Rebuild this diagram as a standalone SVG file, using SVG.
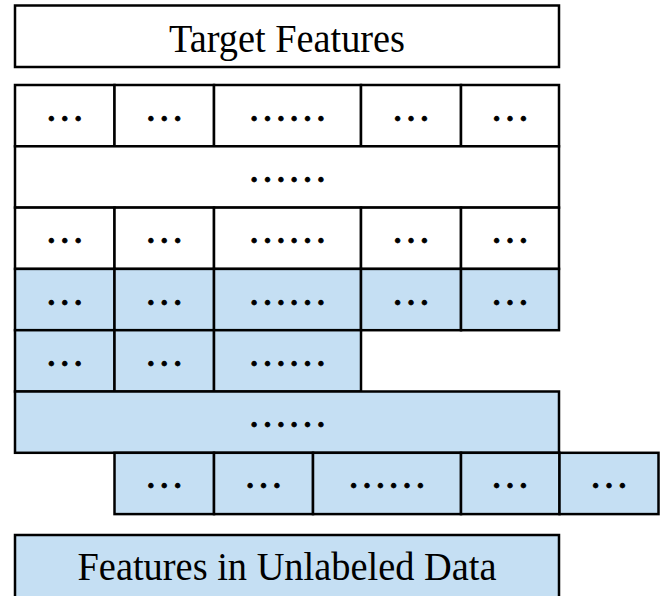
<svg xmlns="http://www.w3.org/2000/svg" width="663" height="596" viewBox="0 0 663 596">
<style>
.c{stroke:#000;stroke-width:2.5;fill:#fff}
.b{fill:#c5dff3}
.t{font-family:"Liberation Serif","Times New Roman",serif;font-size:40px;text-anchor:middle;fill:#000}
.d{stroke:#000;stroke-width:0.8}
</style>
<rect width="663" height="596" fill="#fff"/>
<g id="target-features"><rect class="c" x="15" y="5.5" width="544" height="61.5"/><text class="t" x="287" y="52" textLength="236" lengthAdjust="spacingAndGlyphs">Target Features</text></g>
<g id="row1">
<g id="r1c1"><rect class="c" x="15" y="85" width="99.5" height="61.3"/><text class="t d" x="64.7" y="120.6">…</text></g>
<g id="r1c2"><rect class="c" x="114.5" y="85" width="99.5" height="61.3"/><text class="t d" x="164.2" y="120.6">…</text></g>
<g id="r1c3"><rect class="c" x="214" y="85" width="147" height="61.3"/><text class="t d" x="287.5" y="120.6">……</text></g>
<g id="r1c4"><rect class="c" x="361" y="85" width="100" height="61.3"/><text class="t d" x="411" y="120.6">…</text></g>
<g id="r1c5"><rect class="c" x="461" y="85" width="98" height="61.3"/><text class="t d" x="510" y="120.6">…</text></g>
</g>
<g id="row2"><rect class="c" x="15" y="146.3" width="544" height="61.3"/><text class="t d" x="287.5" y="181.9">……</text></g>
<g id="row3">
<g id="r3c1"><rect class="c" x="15" y="207.6" width="99.5" height="61.3"/><text class="t d" x="64.7" y="243.2">…</text></g>
<g id="r3c2"><rect class="c" x="114.5" y="207.6" width="99.5" height="61.3"/><text class="t d" x="164.2" y="243.2">…</text></g>
<g id="r3c3"><rect class="c" x="214" y="207.6" width="147" height="61.3"/><text class="t d" x="287.5" y="243.2">……</text></g>
<g id="r3c4"><rect class="c" x="361" y="207.6" width="100" height="61.3"/><text class="t d" x="411" y="243.2">…</text></g>
<g id="r3c5"><rect class="c" x="461" y="207.6" width="98" height="61.3"/><text class="t d" x="510" y="243.2">…</text></g>
</g>
<g id="row4">
<g id="r4c1"><rect class="c b" x="15" y="268.9" width="99.5" height="61.3"/><text class="t d" x="64.7" y="304.5">…</text></g>
<g id="r4c2"><rect class="c b" x="114.5" y="268.9" width="99.5" height="61.3"/><text class="t d" x="164.2" y="304.5">…</text></g>
<g id="r4c3"><rect class="c b" x="214" y="268.9" width="147" height="61.3"/><text class="t d" x="287.5" y="304.5">……</text></g>
<g id="r4c4"><rect class="c b" x="361" y="268.9" width="100" height="61.3"/><text class="t d" x="411" y="304.5">…</text></g>
<g id="r4c5"><rect class="c b" x="461" y="268.9" width="98" height="61.3"/><text class="t d" x="510" y="304.5">…</text></g>
</g>
<g id="row5">
<g id="r5c1"><rect class="c b" x="15" y="330.2" width="99.5" height="61.3"/><text class="t d" x="64.7" y="365.8">…</text></g>
<g id="r5c2"><rect class="c b" x="114.5" y="330.2" width="99.5" height="61.3"/><text class="t d" x="164.2" y="365.8">…</text></g>
<g id="r5c3"><rect class="c b" x="214" y="330.2" width="147" height="61.3"/><text class="t d" x="287.5" y="365.8">……</text></g>
</g>
<g id="row6"><rect class="c b" x="15" y="391.5" width="544" height="61.3"/><text class="t d" x="287.5" y="427.1">……</text></g>
<g id="row7">
<g id="r7c1"><rect class="c b" x="114.5" y="452.8" width="99.5" height="61.3"/><text class="t d" x="164.2" y="488.4">…</text></g>
<g id="r7c2"><rect class="c b" x="214" y="452.8" width="99" height="61.3"/><text class="t d" x="263.5" y="488.4">…</text></g>
<g id="r7c3"><rect class="c b" x="313" y="452.8" width="148" height="61.3"/><text class="t d" x="387" y="488.4">……</text></g>
<g id="r7c4"><rect class="c b" x="461" y="452.8" width="98.5" height="61.3"/><text class="t d" x="510" y="488.4">…</text></g>
<g id="r7c5"><rect class="c b" x="559.5" y="452.8" width="99" height="61.3"/><text class="t d" x="609" y="488.4">…</text></g>
</g>
<g id="unlabeled-features"><rect class="c b" x="15" y="535" width="544" height="64"/><text class="t" x="287" y="580" textLength="419" lengthAdjust="spacingAndGlyphs">Features in Unlabeled Data</text></g>
</svg>
